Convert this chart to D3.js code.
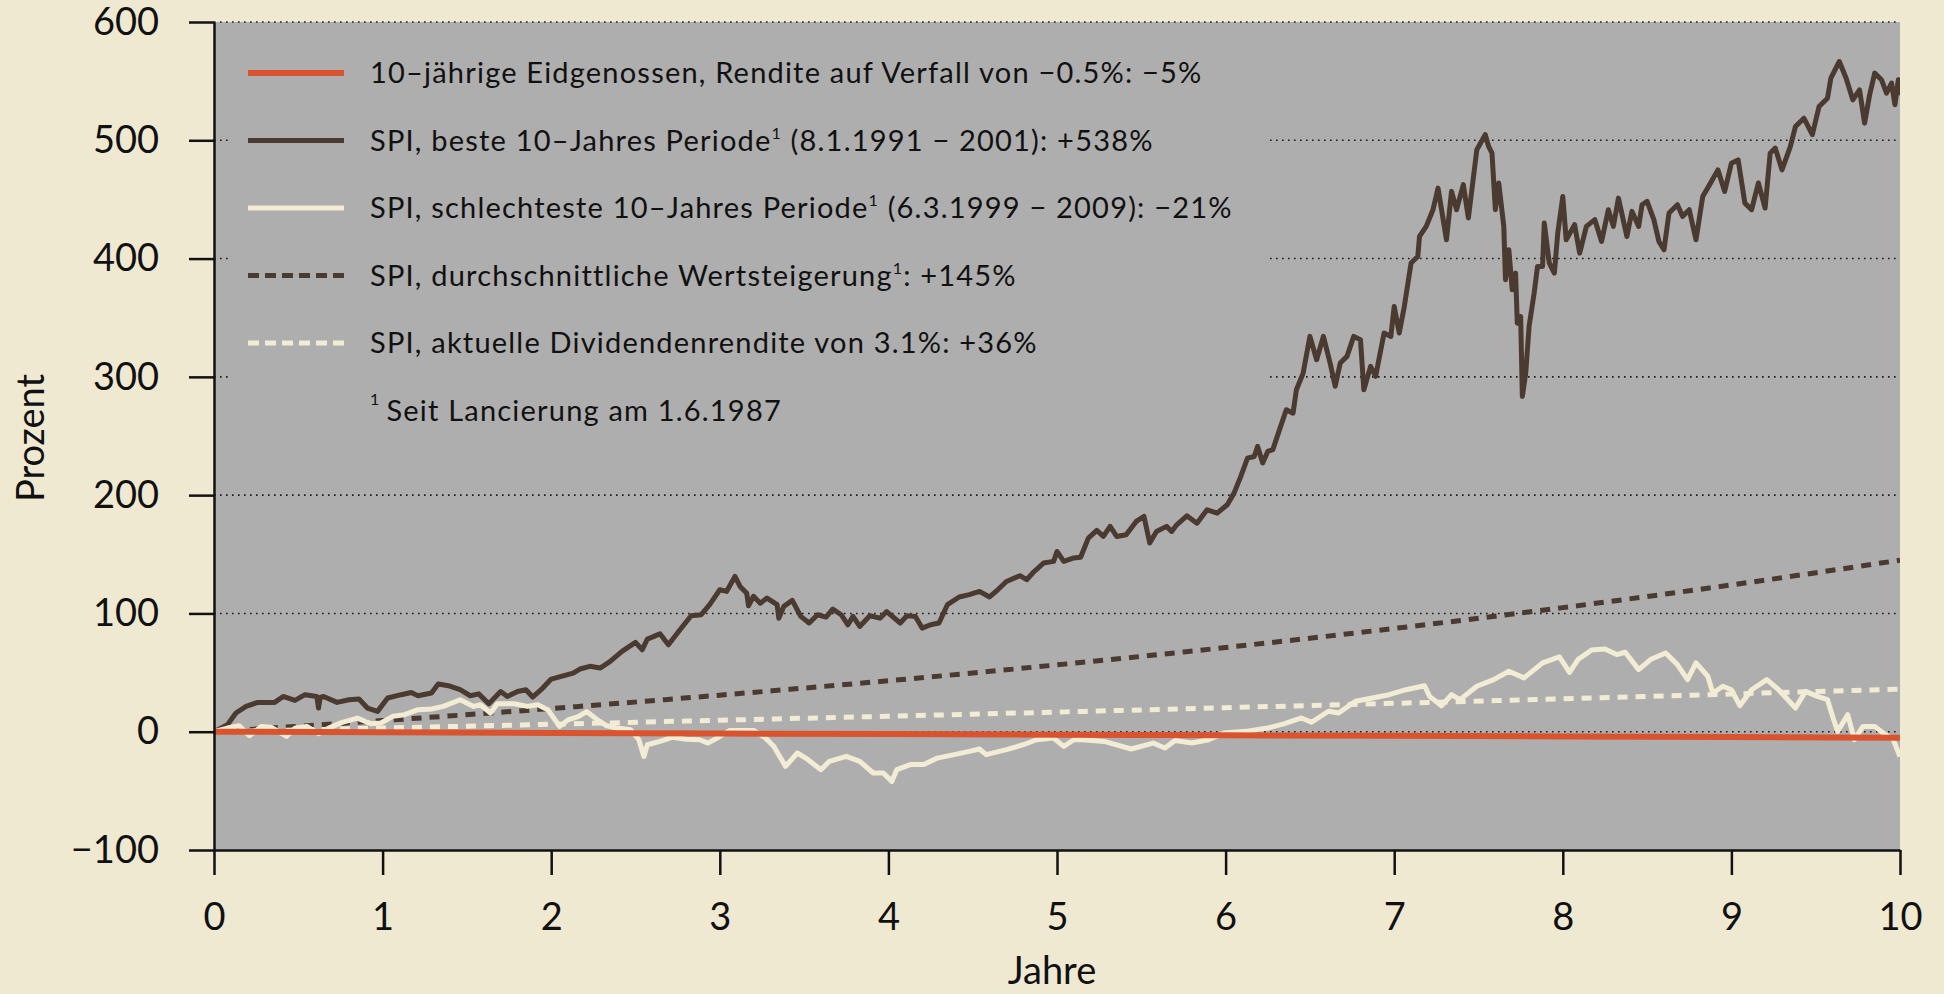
<!DOCTYPE html>
<html>
<head>
<meta charset="utf-8">
<style>
  body { margin: 0; background: #f0e9d2; }
  svg { display: block; }
  text { font-family: Lato, "Open Sans", sans-serif; fill: #111; }
</style>
</head>
<body>
<script src="https://d3js.org/d3.v7.min.js"></script>
<script>
const width = 1944;
const height = 994;

// y ticks, x ticks
const yTicks = [-100, 0, 100, 200, 300, 400, 500, 600];
const xTicks = [0, 1, 2, 3, 4, 5, 6, 7, 8, 9, 10];

// smooth series, read at whole years
const years = [0, 1, 2, 3, 4, 5, 6, 7, 8, 9, 10];
const bondValues = [0, -0.5, -1, -1.5, -2, -2.5, -3, -3.5, -4, -4.5, -5];
const avgValues = [0, 9.4, 19.6, 30.9, 43.1, 56.5, 71.2, 87.3, 104.9, 124.1, 145];
const divValues = [0, 3.1, 6.3, 9.7, 13.1, 16.6, 20.3, 24.0, 27.9, 31.9, 36];

// SPI best 10 year period [year, percent]
const spiBest = [
  [0,0],[0.08,5.9],[0.13,15.8],[0.19,21.4],[0.26,24.8],[0.36,24.8],[0.41,29.8],[0.48,26.5],[0.54,31.3],[0.61,29.8],
  [0.62,20],[0.63,29],[0.65,29.8],[0.73,24.8],[0.80,27],[0.86,27.6],[0.91,20],[0.97,17.2],[1.03,28.5],[1.11,31.3],
  [1.17,33.2],[1.21,30.4],[1.29,32.7],[1.33,40.3],[1.39,38.9],[1.46,35.5],[1.52,30.4],[1.57,32],[1.63,23.7],[1.70,34],
  [1.74,29.8],[1.80,34],[1.85,35.5],[1.89,29.3],[1.95,36.9],[2.00,44.5],[2.06,46.8],[2.13,49.6],[2.17,53],[2.23,55.3],
  [2.29,53.8],[2.35,59.4],[2.42,67.9],[2.50,75.5],[2.54,69.3],[2.57,78.3],[2.61,80.6],[2.645,82.8],[2.695,73.5],[2.764,86.2],
  [2.83,98],[2.89,98.9],[2.94,107.4],[3.0,120],[3.04,118.6],[3.09,131.3],[3.12,122.8],[3.16,117],[3.17,106.5],[3.20,114.5],
  [3.24,108.7],[3.28,113],[3.34,107.4],[3.35,95.9],[3.38,106],[3.43,111],[3.48,97.5],[3.53,91.9],[3.58,98.9],[3.63,96.9],
  [3.67,103.7],[3.72,98.9],[3.76,90.4],[3.79,97.5],[3.83,89],[3.89,98],[3.95,96],[3.99,101.6],[4.07,91.9],[4.11,98],
  [4.16,97.5],[4.20,87.6],[4.25,90.4],[4.30,91.9],[4.35,107.4],[4.42,113.9],[4.48,115.9],[4.54,118.6],[4.60,113.9],[4.65,120.2],
  [4.70,127],[4.78,131.9],[4.82,128.5],[4.86,134.8],[4.92,142.6],[4.98,144],[5.00,152.4],[5.04,144],[5.10,146.9],[5.14,147.5],
  [5.186,163.7],[5.236,170.2],[5.275,165.1],[5.315,173.6],[5.354,165.1],[5.41,166.5],[5.47,177.8],[5.516,182],[5.55,159.5],[5.59,169.3],
  [5.65,173.6],[5.68,169.3],[5.71,174.9],[5.77,182.5],[5.83,176.3],[5.89,187.6],[5.95,184.8],[6.01,191.9],[6.05,201.7],[6.09,215.8],
  [6.13,231.3],[6.17,232.7],[6.19,241.2],[6.22,227.2],[6.25,237],[6.28,238.5],[6.32,255.4],[6.36,272.2],[6.40,269.3],[6.42,289.1],
  [6.46,303.2],[6.50,334.2],[6.54,314.5],[6.58,334.2],[6.62,311.7],[6.65,292],[6.68,311.7],[6.72,317.3],[6.76,334.2],[6.80,331.4],
  [6.82,289.1],[6.86,308.9],[6.89,300.5],[6.94,337],[6.98,334.2],[7.00,359.5],[7.03,337],[7.06,359.5],[7.10,396.2],[7.14,401.8],
  [7.15,418.7],[7.19,427.2],[7.23,441.3],[7.26,459.6],[7.31,415.9],[7.34,456.8],[7.37,441.3],[7.41,462.5],[7.44,434.3],[7.49,492],
  [7.54,504.7],[7.56,494.8],[7.58,489.2],[7.60,441.3],[7.62,463.9],[7.65,427.2],[7.66,382.1],[7.68,407.4],[7.70,373.6],[7.72,387.7],
  [7.73,345.4],[7.75,351],[7.76,283.4],[7.78,303.2],[7.80,342.6],[7.83,370.8],[7.85,393.3],[7.88,393.3],[7.89,430],[7.92,396.2],
  [7.95,387.7],[7.97,421.5],[8.0,452.5],[8.02,415.9],[8.07,428.6],[8.10,404.6],[8.14,427.2],[8.19,432.9],[8.23,414.5],[8.27,441.3],
  [8.30,427.2],[8.33,451.1],[8.38,418.7],[8.41,439.9],[8.45,427.2],[8.47,445.5],[8.50,448.3],[8.54,432.9],[8.57,414.5],[8.60,407.4],
  [8.63,438.5],[8.68,445.5],[8.71,435.7],[8.75,441.3],[8.79,415.9],[8.83,452.5],[8.87,462.3],[8.92,475],[8.96,456.8],[9.00,480.6],
  [9.04,483.4],[9.08,446.9],[9.12,441.3],[9.16,463.9],[9.20,442.7],[9.23,489.1],[9.26,493.4],[9.30,475],[9.35,494.8],[9.38,511.7],
  [9.43,518.7],[9.48,504.7],[9.52,528.6],[9.57,535.6],[9.59,552.6],[9.64,566.6],[9.68,552.6],[9.72,534.2],[9.76,542.7],[9.79,514.5],
  [9.82,538.5],[9.85,556.8],[9.89,551.2],[9.92,539.9],[9.95,548.4],[9.97,530.1],[9.99,551.2],[10,538]
];

// SPI worst 10 year period [year, percent]
const spiWorst = [
  [0,0],[0.08,3.1],[0.15,5],[0.21,-3.4],[0.28,4.5],[0.34,3.7],[0.43,-4],[0.48,3],[0.55,4.5],[0.62,-1.7],
  [0.68,3],[0.76,7.9],[0.85,11.5],[0.93,6.8],[0.99,7.4],[1.06,13],[1.13,14.4],[1.21,18.6],[1.29,19.2],[1.36,21.4],
  [1.46,27],[1.54,21.4],[1.58,22.8],[1.64,15.8],[1.68,23.7],[1.78,23.7],[1.86,21.4],[1.92,22.8],[1.98,18.6],[2.05,4.5],
  [2.10,10],[2.16,12.7],[2.21,17],[2.27,10.5],[2.33,5],[2.39,3.1],[2.47,1.7],[2.52,-6.8],[2.55,-20.9],[2.57,-11],
  [2.645,-8.2],[2.72,-4.6],[2.80,-6.3],[2.88,-6.8],[2.93,-9.6],[3.0,-4],[3.06,1.1],[3.20,1.1],[3.27,-5.2],[3.32,-12.3],
  [3.39,-29.3],[3.46,-18],[3.51,-22.3],[3.60,-32.1],[3.65,-25],[3.75,-20.8],[3.83,-25],[3.91,-34.9],[3.97,-34.9],[4.02,-42],
  [4.05,-32],[4.13,-27.8],[4.21,-27.8],[4.29,-22.3],[4.39,-19.4],[4.48,-16.6],[4.54,-14.6],[4.58,-19.4],[4.70,-15.2],[4.80,-11],
  [4.88,-6.8],[4.98,-5.4],[5.04,-12.4],[5.10,-6.8],[5.15,-6.8],[5.28,-8.2],[5.44,-14.6],[5.57,-9.6],[5.64,-13.8],[5.70,-7.4],
  [5.80,-9.6],[5.90,-6.8],[5.99,-1.1],[6.12,0.3],[6.25,3.1],[6.35,6.8],[6.45,11.6],[6.51,8],[6.61,17.3],[6.67,15.8],
  [6.77,25.7],[6.87,28.5],[6.97,31.3],[7.07,35.5],[7.18,38.9],[7.21,29.9],[7.28,22],[7.34,31.3],[7.39,27.1],[7.49,38.4],
  [7.59,44],[7.68,51.1],[7.77,45.5],[7.88,58.2],[7.98,63.2],[8.04,50.2],[8.09,61],[8.17,69],[8.25,70],[8.32,65.2],
  [8.37,67.2],[8.45,52.5],[8.52,61],[8.61,66.6],[8.68,56.7],[8.74,44],[8.79,58.2],[8.86,46.9],[8.89,32.7],[8.95,38.4],
  [9.00,35.5],[9.05,22],[9.12,35.5],[9.21,44],[9.28,35.5],[9.38,20],[9.44,34.1],[9.51,29.9],[9.57,27.1],[9.60,13],
  [9.63,0.3],[9.69,14.4],[9.73,-6.8],[9.78,4.5],[9.85,4.5],[9.90,-1.1],[9.96,-6.8],[10,-21]
];

const colors = {
  bg: "#f0e9d2",
  plot: "#aeaeae",
  bond: "#d9532e",
  dark: "#4a3a2f",
  cream: "#f2ecd4"
};

const x = d3.scaleLinear().domain([0, 10]).range([214, 1900]);
const y = d3.scaleLinear().domain([-100, 600]).range([850, 22]);

const svg = d3.select("body").append("svg").attr("width", width).attr("height", height);

svg.append("rect").attr("width", width).attr("height", height).attr("fill", colors.bg);
svg.append("rect")
  .attr("x", x(0)).attr("y", y(600))
  .attr("width", x(10) - x(0)).attr("height", y(-100) - y(600))
  .attr("fill", colors.plot);

// dotted grid
svg.append("g").selectAll("line").data(yTicks.filter(d => d > -100)).enter().append("line")
  .attr("x1", x(0)).attr("x2", x(10))
  .attr("y1", d => y(d)).attr("y2", d => y(d))
  .attr("stroke", "#1a1a1a").attr("stroke-width", 1.6).attr("stroke-dasharray", "1.6,4.4");

// legend box hides the grid behind it
svg.append("rect").attr("x", 230).attr("y", 30).attr("width", 1040).attr("height", 415).attr("fill", colors.plot);

svg.append("clipPath").attr("id", "clip").append("rect")
  .attr("x", x(0)).attr("y", y(600)).attr("width", x(10) - x(0)).attr("height", y(-100) - y(600));

const plot = svg.append("g").attr("clip-path", "url(#clip)");

const line = d3.line().x(d => x(d[0])).y(d => y(d[1]));
const smooth = d3.line().x(d => x(d[0])).y(d => y(d[1])).curve(d3.curveMonotoneX);

plot.append("path").datum(years.map((t, i) => [t, avgValues[i]])).attr("d", smooth)
  .attr("fill", "none").attr("stroke", colors.dark).attr("stroke-width", 5).attr("stroke-dasharray", "10,8");
plot.append("path").datum(years.map((t, i) => [t, divValues[i]])).attr("d", smooth)
  .attr("fill", "none").attr("stroke", colors.cream).attr("stroke-width", 5).attr("stroke-dasharray", "10,8");
plot.append("path").datum(spiBest).attr("d", line)
  .attr("fill", "none").attr("stroke", colors.dark).attr("stroke-width", 5).attr("stroke-linejoin", "round");
plot.append("path").datum(spiWorst).attr("d", line)
  .attr("fill", "none").attr("stroke", colors.cream).attr("stroke-width", 5).attr("stroke-linejoin", "round");
plot.append("path").datum(years.map((t, i) => [t, bondValues[i]])).attr("d", line)
  .attr("fill", "none").attr("stroke", colors.bond).attr("stroke-width", 6);

// axes
const yAxis = svg.append("g").attr("transform", `translate(${x(0)},0)`)
  .call(d3.axisLeft(y).tickValues(yTicks).tickSize(25).tickSizeOuter(0).tickPadding(30).tickFormat(d => d < 0 ? "\u2212" + Math.abs(d) : d));
const xAxis = svg.append("g").attr("transform", `translate(0,${y(-100)})`)
  .call(d3.axisBottom(x).tickValues(xTicks).tickSize(25).tickSizeOuter(0).tickPadding(28));
[yAxis, xAxis].forEach(a => {
  a.selectAll("path, line").attr("stroke", "#111").attr("stroke-width", 2.5);
  a.selectAll("text").attr("font-size", 38).attr("font-family", "Lato, sans-serif").attr("fill", "#111");
});

svg.append("text").attr("transform", "translate(44,438) rotate(-90)")
  .attr("text-anchor", "middle").attr("font-size", 38).text("Prozent");
svg.append("text").attr("x", 1052).attr("y", 984)
  .attr("text-anchor", "middle").attr("font-size", 38).text("Jahre");

// legend
const legendRows = [
  {parts: ["10\u2013jährige Eidgenossen, Rendite auf Verfall von \u22120.5%: \u22125%"], color: colors.bond, dash: null, w: 6},
  {parts: ["SPI, beste 10\u2013Jahres Periode", "1", " (8.1.1991 \u2212 2001): +538%"], color: colors.dark, dash: null, w: 5},
  {parts: ["SPI, schlechteste 10\u2013Jahres Periode", "1", " (6.3.1999 \u2212 2009): \u221221%"], color: colors.cream, dash: null, w: 5},
  {parts: ["SPI, durchschnittliche Wertsteigerung", "1", ": +145%"], color: colors.dark, dash: "11,6", w: 5},
  {parts: ["SPI, aktuelle Dividendenrendite von 3.1%: +36%"], color: colors.cream, dash: "11,6", w: 5}
];
const legend = svg.append("g");
legendRows.forEach((r, i) => {
  const cy = 73 + i * 67.5;
  legend.append("line").attr("x1", 248).attr("x2", 344).attr("y1", cy).attr("y2", cy)
    .attr("stroke", r.color).attr("stroke-width", r.w).attr("stroke-dasharray", r.dash);
  const t = legend.append("text").attr("x", 370).attr("y", cy + 10)
    .attr("font-size", 29).attr("letter-spacing", 1.2);
  r.parts.forEach((p, j) => {
    if (j === 1) t.append("tspan").attr("font-size", 16).attr("dy", -12).text(p);
    else t.append("tspan").attr("dy", j === 2 ? 12 : 0).text(p);
  });
});
const foot = legend.append("text").attr("x", 370).attr("y", 421)
  .attr("font-size", 29).attr("letter-spacing", 1.2);
foot.append("tspan").attr("font-size", 16).attr("dy", -16).text("1");
foot.append("tspan").attr("dx", 6).attr("dy", 16).text("Seit Lancierung am 1.6.1987");
</script>
</body>
</html>
